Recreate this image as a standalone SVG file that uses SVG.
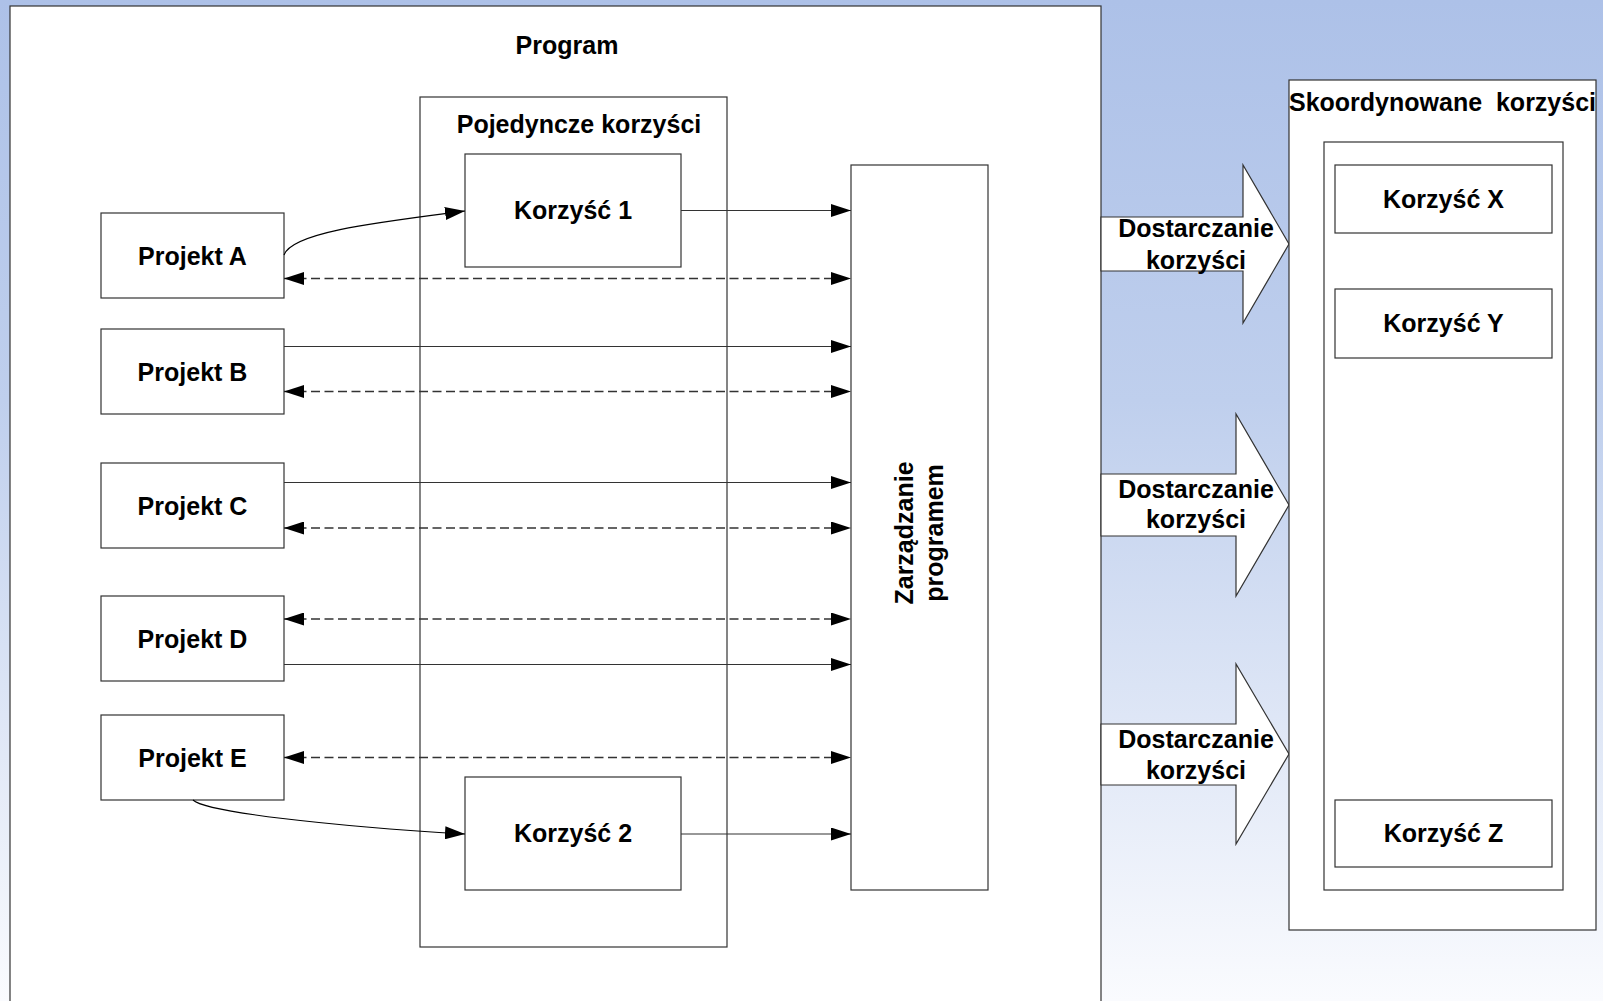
<svg xmlns="http://www.w3.org/2000/svg" width="1603" height="1001" viewBox="0 0 1603 1001">
  <defs>
    <linearGradient id="bg" x1="0" y1="0" x2="0" y2="1">
      <stop offset="0" stop-color="#adc1e8"/>
      <stop offset="0.4" stop-color="#bfcfed"/>
      <stop offset="1" stop-color="#fafbfe"/>
    </linearGradient>
    <marker id="head" markerUnits="userSpaceOnUse" markerWidth="20" markerHeight="13" refX="20" refY="6.5" orient="auto-start-reverse" viewBox="0 0 20 13">
      <path d="M0,0 L20,6.5 L0,13 Z" fill="#000"/>
    </marker>
    <style>
      .box { fill: #fff; stroke: #333; stroke-width: 1.2; }
      .lbl { font-family: "Liberation Sans", Arial, sans-serif; font-weight: bold; font-size: 25px; fill: #000; text-anchor: middle; }
      .solid { fill: none; stroke: #333; stroke-width: 1.2; marker-end: url(#head); }
      .dash { fill: none; stroke: #333; stroke-width: 1.3; stroke-dasharray: 9 4.5; marker-start: url(#head); marker-end: url(#head); }
      .curve { fill: none; stroke: #000; stroke-width: 1.1; marker-end: url(#head); }
      .big { fill: #fff; stroke: #333; stroke-width: 1.2; stroke-linejoin: miter; }
    </style>
  </defs>

  <rect x="0" y="0" width="1603" height="1001" fill="url(#bg)"/>

  <!-- Program frame -->
  <g id="program">
    <rect class="box" x="10" y="6" width="1091" height="1010"/>
    <text class="lbl" x="567" y="54">Program</text>
  </g>

  <!-- Individual benefits column -->
  <g id="pojedyncze">
    <rect class="box" x="420" y="97" width="307" height="850"/>
    <text class="lbl" x="579" y="133">Pojedyncze korzyści</text>
  </g>

  <g id="korzysc1">
    <rect class="box" x="465" y="154" width="216" height="113"/>
    <text class="lbl" x="573" y="219">Korzyść 1</text>
  </g>

  <g id="korzysc2">
    <rect class="box" x="465" y="777" width="216" height="113"/>
    <text class="lbl" x="573" y="842">Korzyść 2</text>
  </g>

  <g id="zarzadzanie">
    <rect class="box" x="851" y="165" width="137" height="725"/>
    <text class="lbl" transform="translate(913 533) rotate(-90)">Zarządzanie</text>
    <text class="lbl" transform="translate(943 533) rotate(-90)">programem</text>
  </g>

  <!-- Projects -->
  <g id="projektA">
    <rect class="box" x="101" y="213" width="183" height="85"/>
    <text class="lbl" x="192.5" y="264.5">Projekt A</text>
  </g>
  <g id="projektB">
    <rect class="box" x="101" y="329" width="183" height="85"/>
    <text class="lbl" x="192.5" y="380.5">Projekt B</text>
  </g>
  <g id="projektC">
    <rect class="box" x="101" y="463" width="183" height="85"/>
    <text class="lbl" x="192.5" y="514.5">Projekt C</text>
  </g>
  <g id="projektD">
    <rect class="box" x="101" y="596" width="183" height="85"/>
    <text class="lbl" x="192.5" y="647.5">Projekt D</text>
  </g>
  <g id="projektE">
    <rect class="box" x="101" y="715" width="183" height="85"/>
    <text class="lbl" x="192.5" y="766.5">Projekt E</text>
  </g>

  <!-- Connectors -->
  <g id="connectors">
    <path class="curve" d="M284,255 C292,232 380,222 465,211"/>
    <path class="curve" d="M193,800 C205,812 330,826 465,834"/>
    <line class="solid" x1="681" y1="210.5" x2="851" y2="210.5"/>
    <line class="dash" x1="284" y1="278.5" x2="851" y2="278.5"/>
    <line class="solid" x1="284" y1="346.5" x2="851" y2="346.5"/>
    <line class="dash" x1="284" y1="391.5" x2="851" y2="391.5"/>
    <line class="solid" x1="284" y1="482.5" x2="851" y2="482.5"/>
    <line class="dash" x1="284" y1="528" x2="851" y2="528"/>
    <line class="dash" x1="284" y1="619" x2="851" y2="619"/>
    <line class="solid" x1="284" y1="664.5" x2="851" y2="664.5"/>
    <line class="dash" x1="284" y1="757.5" x2="851" y2="757.5"/>
    <line class="solid" x1="681" y1="834" x2="851" y2="834"/>
  </g>

  <!-- Delivery arrows -->
  <g id="dostarczanie1">
    <polygon class="big" points="1101,217 1243,217 1243,165 1289,244 1243,323 1243,271 1101,271"/>
    <text class="lbl" x="1196" y="237">Dostarczanie</text>
    <text class="lbl" x="1196" y="268.5">korzyści</text>
  </g>
  <g id="dostarczanie2">
    <polygon class="big" points="1101,474 1236,474 1236,414 1289,505 1236,596 1236,536 1101,536"/>
    <text class="lbl" x="1196" y="497.5">Dostarczanie</text>
    <text class="lbl" x="1196" y="528">korzyści</text>
  </g>
  <g id="dostarczanie3">
    <polygon class="big" points="1101,724 1236,724 1236,664 1289,754 1236,844 1236,785 1101,785"/>
    <text class="lbl" x="1196" y="748">Dostarczanie</text>
    <text class="lbl" x="1196" y="779">korzyści</text>
  </g>

  <!-- Coordinated benefits -->
  <g id="skoordynowane">
    <rect class="box" x="1289" y="80" width="307" height="850"/>
    <text class="lbl" x="1442.5" y="110.5" style="white-space:pre">Skoordynowane  korzyści</text>
    <rect class="box" x="1324" y="142" width="239" height="748"/>
  </g>
  <g id="korzyscX">
    <rect class="box" x="1335" y="165" width="217" height="68"/>
    <text class="lbl" x="1443.5" y="207.5">Korzyść X</text>
  </g>
  <g id="korzyscY">
    <rect class="box" x="1335" y="289" width="217" height="69"/>
    <text class="lbl" x="1443.5" y="332">Korzyść Y</text>
  </g>
  <g id="korzyscZ">
    <rect class="box" x="1335" y="800" width="217" height="67"/>
    <text class="lbl" x="1443.5" y="842">Korzyść Z</text>
  </g>
</svg>
